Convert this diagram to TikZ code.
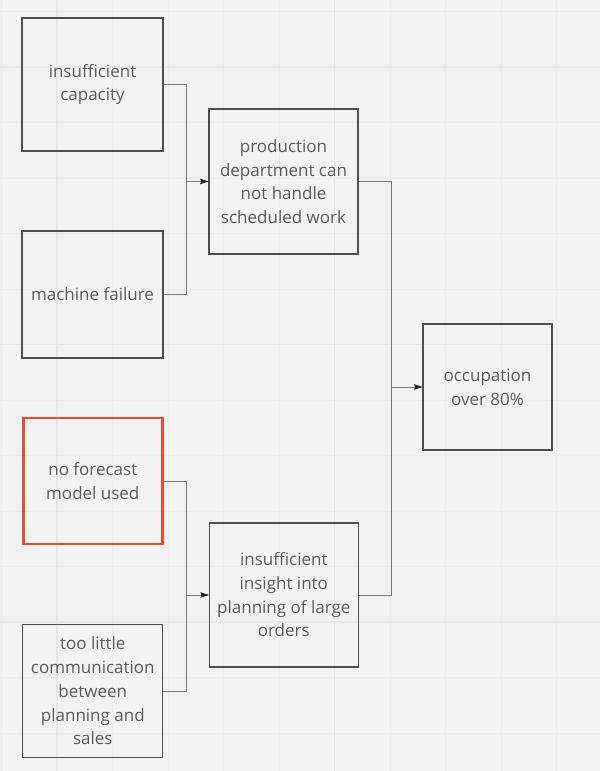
\documentclass[tikz,border=0pt]{standalone}
\usepackage{fontspec}
\setmainfont{Open Sans}
\usetikzlibrary{arrows.meta}
\definecolor{paper}{HTML}{F2F2F2}
\definecolor{gridminor}{HTML}{ECECEC}
\definecolor{gridmajor}{HTML}{E6E6E6}
\definecolor{boxline}{HTML}{4E4E4E}
\definecolor{connline}{HTML}{7A7A7A}
\definecolor{txt}{HTML}{5A5A5A}
\definecolor{alert}{HTML}{F04B2E}
\tikzset{
  box/.style={draw=boxline, line width=1.3pt, inner sep=0pt, align=center,
    text=txt, font=\fontsize{17}{23.7}\selectfont},
  conn/.style={draw=connline, line width=1pt,
    -{Stealth[length=8pt,width=5pt,inset=1pt,color=black!85]}}
}
\begin{document}
\begin{tikzpicture}[x=1pt,y=-1pt]
        \useasboundingbox[fill=paper] (0,0) rectangle (600,771);
        % grid
        \foreach \i in {0,...,10}{
            \draw[gridminor, line width=1pt] (1.5+55.5*\i,0)--(1.5+55.5*\i,771);
            };
        \foreach \j in {0,...,13}{
            \draw[gridminor, line width=1pt] (0,11.5+55.5*\j)--(600,11.5+55.5*\j);
            };
        \foreach \i in {57,334.5}{
            \draw[gridmajor, line width=1.2pt] (\i,0)--(\i,771);
            };
        \foreach \j in {67,344.5,622}{
            \draw[gridmajor, line width=1.2pt] (0,\j)--(600,\j);
            };
        % boxes
        \node[box, minimum width=141pt, minimum height=133pt] (cap) at (92.5,84.5) {insufficient\\capacity};
        \node[box, minimum width=141pt, minimum height=127pt] (fail) at (92.5,294.5) {machine failure};
        \node[box, minimum width=149pt, minimum height=145pt] (prod) at (283.5,181.5)
            {production\\department can\\not handle\\scheduled work};
        \node[box, minimum width=129pt, minimum height=126pt] (occ) at (487.5,387) {occupation\\over 80\%};
        \node[box, draw=alert, line width=2.4pt, minimum width=139pt, minimum height=126pt] (fore) at (92.8,481)
            {no forecast\\model used};
        \node[box, minimum width=140pt, minimum height=133pt] (comm) at (92.8,691)
            {too little\\communication\\between\\planning and\\sales};
        \node[box, minimum width=149pt, minimum height=144pt] (ins) at (283.8,595)
            {insufficient\\insight into\\planning of large\\orders};
        % connectors
        \coordinate (jA) at (186,181.5);
        \coordinate (jB) at (186,595);
        \coordinate (jC) at (391,387);
        \draw[conn] (cap.east) -| (jA) -- (prod.west);
        \draw[conn] (fail.east) -| (jA) -- (prod.west);
        \draw[conn] (fore.east) -| (jB) -- (ins.west);
        \draw[conn] (comm.east) -| (jB) -- (ins.west);
        \draw[conn] (prod.east) -| (jC) -- (occ.west);
        \draw[conn] (ins.east) -| (jC) -- (occ.west);
    \end{tikzpicture}
\end{document}
